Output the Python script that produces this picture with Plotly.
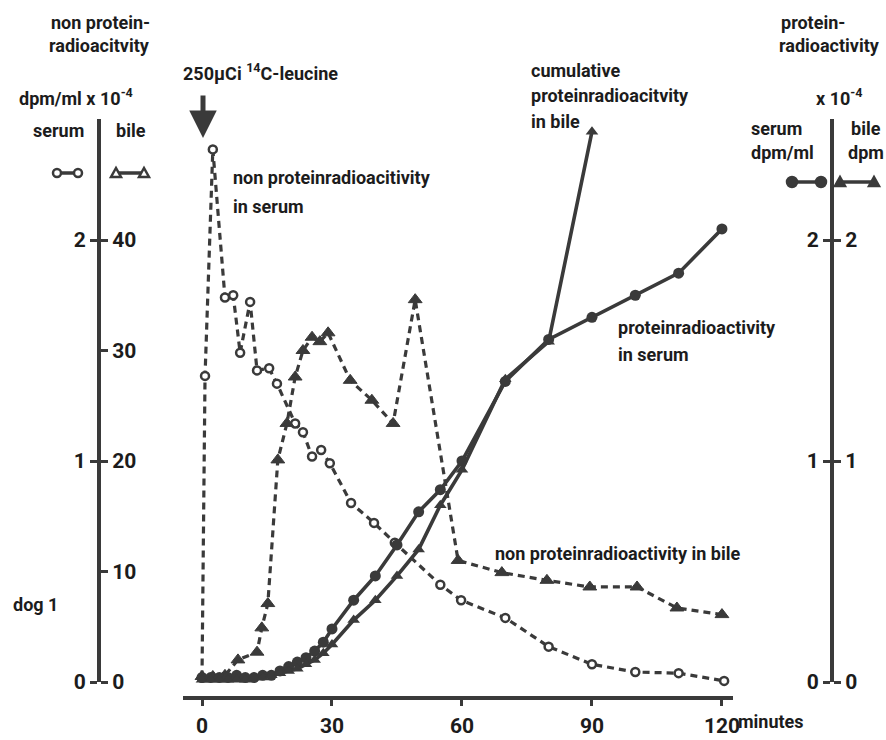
import plotly.graph_objects as go

# ---------------- data ----------------
# non protein radioactivity in serum (dpm/ml x 10^-4, left "serum" scale)
t_np_serum = [0, 0.7, 2.5, 5.3, 7.2, 8.8, 11.1, 12.7, 15.5, 17.3, 21.5, 23.3, 25.4, 27.5, 29.5,
              34.4, 39.7, 44.5, 55, 59.8, 70, 80, 90, 100, 110, 120.5]
v_np_serum = [0.02, 1.385, 2.41, 1.74, 1.75, 1.49, 1.72, 1.41, 1.42, 1.35, 1.17, 1.13, 1.02, 1.05, 0.99,
              0.81, 0.72, 0.63, 0.44, 0.37, 0.29, 0.16, 0.08, 0.045, 0.04, 0.005]

# non protein radioactivity in bile (left "bile" scale 0-40)
t_np_bile = [0, 2.5, 5.3, 8.3, 12.7, 13.8, 15.2, 17.5, 19.6, 21.5, 23.3, 25.4, 27.2, 29.1,
             34.2, 39.2, 44.1, 49.2, 59.1, 69.2, 79.6, 89.5, 100.4, 109.6, 120]
v_np_bile = [0.5, 0.5, 0.6, 2.0, 2.7, 4.9, 7.1, 20.1, 23.4, 27.6, 30.0, 31.2, 30.8, 31.6,
             27.3, 25.5, 23.4, 34.6, 11.0, 9.9, 9.2, 8.6, 8.6, 6.7, 6.1]

# protein radioactivity in serum (right "serum dpm/ml" scale)
t_p_serum = [0, 2, 4, 6, 8, 10, 12, 14, 16, 18, 20, 22, 24, 26, 28, 30, 35, 40, 45, 50, 55, 60,
             70, 80, 90, 100, 110, 120]
v_p_serum = [0.02, 0.02, 0.02, 0.02, 0.03, 0.02, 0.02, 0.03, 0.03, 0.05, 0.07, 0.09, 0.11, 0.14,
             0.18, 0.24, 0.37, 0.48, 0.62, 0.77, 0.87, 1.00, 1.36, 1.55, 1.65, 1.75, 1.85, 2.05]

# cumulative protein radioactivity in bile (right "bile dpm" scale)
t_p_bile = [0, 2, 4, 6, 8, 10, 12, 14, 16, 18, 20, 22, 24, 26, 28, 30, 35, 40, 45, 50, 55, 60,
            70, 80, 90]
v_p_bile = [0.01, 0.01, 0.01, 0.01, 0.01, 0.01, 0.02, 0.02, 0.03, 0.04, 0.05, 0.06, 0.08, 0.10,
            0.13, 0.17, 0.28, 0.37, 0.48, 0.60, 0.80, 0.96, 1.37, 1.54, 2.49]

x_ticks = [0, 30, 60, 90, 120]
serum_ticks = [0, 1, 2]
bile_ticks = [0, 10, 20, 30, 40]

# ---------------- geometry helpers (pixel -> paper) ----------------
W_FIG, H_FIG = 886, 740
L, R, T, B = 99, 832, 119, 698
PW, PH = R - L, B - T


def px(x):
    return (x - L) / PW


def py(y):
    return (B - y) / PH


X0_PX, X_SCALE = 202.0, 4.333   # t=0 at 202px, px per minute
Y0_PX, Y_SCALE = 682.0, 221.0   # v=0 at 682px, px per unit
x_dom = [px(183), px(733)]
x_rng = [(183 - X0_PX) / X_SCALE, (733 - X0_PX) / X_SCALE]
y_dom = [py(Y0_PX), 1.0]
y_top = (Y0_PX - T) / Y_SCALE

FONT = "Roboto, Liberation Sans Narrow, DejaVu Sans Condensed, sans-serif"
INK = "#1c1c1c"
LINE = "#3a3a3a"
TXT = dict(family=FONT, size=18, color=INK, weight="bold")
TICKF = dict(family=FONT, size=21, color=INK, weight="bold")

fig = go.Figure()

fig.add_trace(go.Scatter(
    x=t_np_serum, y=v_np_serum, mode="lines+markers", yaxis="y", cliponaxis=False,
    line=dict(color=LINE, width=3.2, dash="7px,5px"),
    marker=dict(symbol="circle", size=8, color="white", line=dict(color=LINE, width=2.5)),
    showlegend=False))

fig.add_trace(go.Scatter(
    x=t_np_bile, y=v_np_bile, mode="lines+markers", yaxis="y2", cliponaxis=False,
    line=dict(color=LINE, width=3.2, dash="7px,5px"),
    marker=dict(symbol="triangle-up", size=12, color=LINE, line=dict(color=LINE, width=1)),
    showlegend=False))

fig.add_trace(go.Scatter(
    x=t_p_bile, y=v_p_bile, mode="lines+markers", yaxis="y4", cliponaxis=False,
    line=dict(color=LINE, width=3.6),
    marker=dict(symbol="triangle-up", size=11, color=LINE),
    showlegend=False))

fig.add_trace(go.Scatter(
    x=t_p_serum, y=v_p_serum, mode="lines+markers", yaxis="y3", cliponaxis=False,
    line=dict(color=LINE, width=3.6),
    marker=dict(symbol="circle", size=11, color=LINE),
    showlegend=False))

axis_common = dict(showgrid=False, zeroline=False, showline=True, linecolor=LINE, linewidth=4,
                   ticks="outside", ticklen=7, tickwidth=3, tickcolor=LINE, tickfont=TICKF,
                   anchor="free", domain=y_dom, fixedrange=True, automargin=False)

fig.update_layout(
    width=W_FIG, height=H_FIG, autosize=False,
    margin=dict(l=L, r=W_FIG - R, t=T, b=H_FIG - B, pad=0),
    paper_bgcolor="white", plot_bgcolor="white",
    xaxis=dict(domain=x_dom, range=x_rng, anchor="free", position=0, automargin=False,
               showgrid=False, zeroline=False, showline=True, linecolor=LINE, linewidth=4,
               ticks="outside", ticklen=6, tickwidth=3, tickcolor=LINE, fixedrange=True,
               tickvals=x_ticks, ticktext=[str(v) for v in x_ticks], tickfont=TICKF,
               ticklabelstandoff=2),
    yaxis=dict(range=[0, y_top], position=0, side="left",
               tickvals=serum_ticks, ticktext=[str(v) for v in serum_ticks], **axis_common),
    yaxis2=dict(range=[0, y_top * 20], position=0, side="right", overlaying="y",
                tickvals=bile_ticks, ticktext=[str(v) for v in bile_ticks], **axis_common),
    yaxis3=dict(range=[0, y_top], position=1, side="left", overlaying="y",
                tickvals=serum_ticks, ticktext=[str(v) for v in serum_ticks], **axis_common),
    yaxis4=dict(range=[0, y_top], position=1, side="right", overlaying="y",
                tickvals=serum_ticks, ticktext=[str(v) for v in serum_ticks], **axis_common),
)

# ---------------- text ----------------
texts = [
    ("non protein-", 50, 22),
    ("radioacitvity", 48, 46),
    ("dpm/ml x 10<sup>-4</sup>", 18, 97),
    ("serum", 32, 131),
    ("bile", 115, 131),
    ("250µCi <sup>14</sup>C-leucine", 182, 72),
    ("non proteinradioacitivity", 232, 177),
    ("in serum", 232, 206),
    ("cumulative", 530, 70),
    ("proteinradioacitvity", 530, 96),
    ("in bile", 530, 121),
    ("proteinradioactivity", 617, 327),
    ("in serum", 617, 354),
    ("non proteinradioactivity in bile", 494, 553),
    ("dog 1", 12, 604),
    ("protein-", 780, 22),
    ("radioactivity", 778, 46),
    ("x 10<sup>-4</sup>", 815, 97),
    ("serum", 750, 128),
    ("dpm/ml", 750, 153),
    ("bile", 850, 128),
    ("dpm", 847, 153),
    ("minutes", 737, 721),
]
for s, x, y in texts:
    fig.add_annotation(text=s, x=px(x), y=py(y), xref="paper", yref="paper",
                       xanchor="left", yanchor="middle", showarrow=False,
                       font=TXT, borderpad=0)

# injection arrow
fig.add_annotation(text="", x=px(203), y=py(138), xref="paper", yref="paper",
                   ax=0, ay=-44, showarrow=True, arrowhead=2, arrowsize=1.1,
                   arrowwidth=5, arrowcolor=LINE)

# ---------------- legend keys (shapes) ----------------
def dumbbell(x_a, x_b, y, kind_a, kind_b, filled):
    fig.add_shape(type="line", xref="paper", yref="paper", x0=px(x_a), x1=px(x_b),
                  y0=py(y), y1=py(y), line=dict(color=LINE, width=3.5))
    for xx, kind in ((x_a, kind_a), (x_b, kind_b)):
        fill = LINE if filled else "white"
        if kind == "c":
            r = 4 if not filled else 5
            fig.add_shape(type="circle", xref="paper", yref="paper",
                          xsizemode="pixel", ysizemode="pixel",
                          xanchor=px(xx), yanchor=py(y), x0=-r, x1=r, y0=-r, y1=r,
                          fillcolor=fill, line=dict(color=LINE, width=2.5))
        else:
            fig.add_shape(type="path", xref="paper", yref="paper",
                          xsizemode="pixel", ysizemode="pixel",
                          xanchor=px(xx), yanchor=py(y),
                          path="M -5,-4 L 5,-4 L 0,5 Z",
                          fillcolor=fill, line=dict(color=LINE, width=2.5))


dumbbell(57, 78, 173, "c", "c", False)
dumbbell(116, 144, 173, "t", "t", False)
dumbbell(792, 821, 182, "c", "c", True)
dumbbell(840, 874, 182, "t", "t", True)

# remove the browser's default page margin so the 886x740 figure fills the window exactly
fig.write_html("out.html", config={"displayModeBar": False},
               post_script="document.body.style.margin='0';")
